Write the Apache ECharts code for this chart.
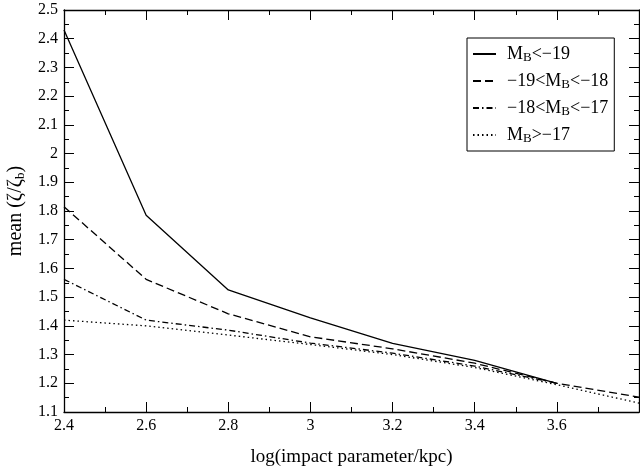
<!DOCTYPE html>
<html>
<head>
<meta charset="utf-8">
<script src="https://cdn.jsdelivr.net/npm/echarts@6/dist/echarts.min.js"></script>
<style>html,body{margin:0;padding:0;background:#fff}#c{width:640px;height:471px}</style>
</head>
<body>
<div id="c"></div>
<script>
var xValues = [2.4, 2.6, 2.8, 3.0, 3.2, 3.4, 3.6, 3.8];
var seriesNames = ['M{sub|B}<\u221219', '\u221219<M{sub|B}<\u221218', '\u221218<M{sub|B}<\u221217', 'M{sub|B}>\u221217'];
var brightest = [2.43, 1.785, 1.525, 1.428, 1.339, 1.28, 1.2];
var bright = [1.815, 1.562, 1.442, 1.362, 1.32, 1.27, 1.2, 1.152];
var faint = [1.562, 1.42, 1.385, 1.34, 1.305, 1.26, 1.2];
var faintest = [1.42, 1.40, 1.368, 1.335, 1.30, 1.255, 1.195, 1.131];
var xTicks = [2.4, 2.6, 2.8, 3, 3.2, 3.4, 3.6];
var yTicks = [1.1, 1.2, 1.3, 1.4, 1.5, 1.6, 1.7, 1.8, 1.9, 2, 2.1, 2.2, 2.3, 2.4, 2.5];

function pairs(ys) { return ys.map(function (y, i) { return [xValues[i], y]; }); }

var FONT = 'Liberation Serif';
var dashes = ['solid', [8, 4], [6, 3, 1.5, 3], [1.5, 3]];
var allY = [brightest, bright, faint, faintest];

var chart = echarts.init(document.getElementById('c'), null, {renderer: 'canvas'});
var axisCommon = {
  type: 'value',
  axisLine: {show: true, onZero: false, lineStyle: {color: '#000', width: 1.3}},
  axisTick: {show: true, inside: true, length: 10, lineStyle: {color: '#000', width: 1}},
  minorTick: {show: true, splitNumber: 2, length: 5, lineStyle: {color: '#000', width: 1}},
  splitLine: {show: false},
  minorSplitLine: {show: false}
};
function xLabel(v) {
  var r = Math.round(v * 10) / 10;
  for (var i = 0; i < xTicks.length; i++) if (Math.abs(xTicks[i] - r) < 1e-6) return String(xTicks[i]);
  return '';
}
function yLabel(v) {
  var r = Math.round(v * 10) / 10;
  for (var i = 0; i < yTicks.length; i++) if (Math.abs(yTicks[i] - r) < 1e-6) return String(yTicks[i]);
  return '';
}
var subStyle = {fontFamily: FONT, fontSize: 13, verticalAlign: 'bottom', lineHeight: 6, padding: [8, 0, 0, 0]};
var option = {
  backgroundColor: '#fff',
  animation: false,
  grid: {left: 64, right: 1, top: 10, bottom: 59, containLabel: false, outerBoundsMode: 'none'},
  xAxis: [
    Object.assign({}, axisCommon, {
      position: 'bottom', min: 2.4, max: 3.8, interval: 0.2,
      axisLabel: {show: true, color: '#000', fontFamily: FONT, fontSize: 16, margin: 6, formatter: xLabel, showMaxLabel: false},
      name: 'log(impact parameter/kpc)', nameLocation: 'middle', nameGap: 36,
      nameTextStyle: {color: '#000', fontFamily: FONT, fontSize: 19}
    }),
    Object.assign({}, axisCommon, {
      position: 'top', min: 2.4, max: 3.8, interval: 0.2,
      axisLabel: {show: false}
    })
  ],
  yAxis: [
    Object.assign({}, axisCommon, {
      position: 'left', min: 1.1, max: 2.5, interval: 0.1,
      axisLabel: {show: true, color: '#000', fontFamily: FONT, fontSize: 16, margin: 6, formatter: yLabel},
      name: 'mean (\u03b6/\u03b6{sub|b})', nameLocation: 'middle', nameGap: 36, nameRotate: 90,
      nameTextStyle: {color: '#000', fontFamily: FONT, fontSize: 20, lineHeight: 22,
        rich: {sub: subStyle}}
    }),
    Object.assign({}, axisCommon, {
      position: 'right', min: 1.1, max: 2.5, interval: 0.1,
      axisLabel: {show: false}
    })
  ],
  legend: {
    orient: 'vertical', left: 467, top: 38,
    padding: [5, 6, 6, 5], itemGap: 6, itemWidth: 23, itemHeight: 14,
    backgroundColor: '#fff', borderColor: '#000', borderWidth: 1, borderRadius: 0,
    data: seriesNames,
    itemStyle: {opacity: 0},
    formatter: function (n) { return n; },
    textStyle: {color: '#000', fontFamily: FONT, fontSize: 18, lineHeight: 20, padding: [0, 0, 0, 6],
      rich: {sub: subStyle}}
  },
  series: allY.map(function (ys, i) {
    return {
      name: seriesNames[i], type: 'line', data: pairs(ys), symbol: 'none',
      xAxisIndex: 0, yAxisIndex: 0,
      lineStyle: {color: '#000', width: 1.3, type: dashes[i]},
      itemStyle: {color: '#000'}
    };
  })
};
chart.setOption(option);
</script>
</body>
</html>
